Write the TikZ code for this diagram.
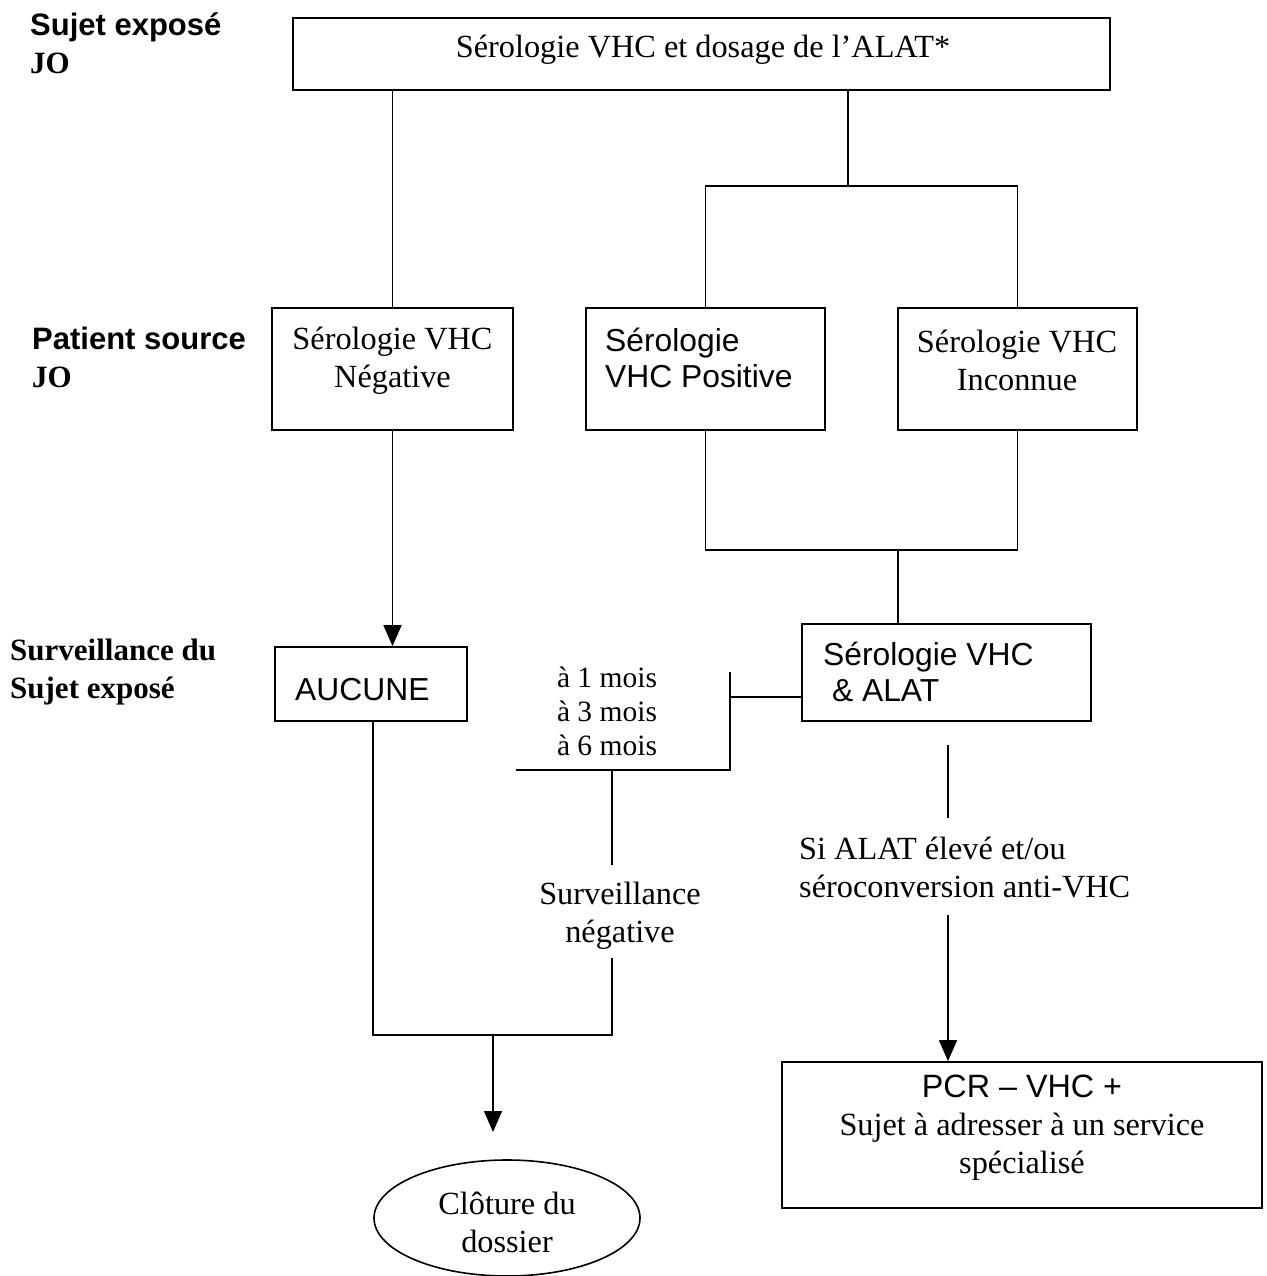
\documentclass[tikz,border=0pt]{standalone}
\usepackage{fontspec}
\setmainfont{Liberation Serif}
\setsansfont{Liberation Sans}
\usetikzlibrary{arrows.meta,shapes.geometric}
\begin{document}
\begin{tikzpicture}[x=1pt,y=-1pt,
  box/.style={draw,line width=1.8pt,rectangle,inner sep=0pt},
  link/.style={line width=1.6pt},
  arr/.style={line width=1.6pt,-{Triangle[width=18pt,length=21pt]}},
  serif/.style={font=\fontsize{32.3}{38}\selectfont,inner sep=0pt,align=center},
  sans/.style={font=\sffamily\fontsize{31.8}{36}\selectfont,inner sep=0pt,align=left},
  rowlabel/.style={font=\bfseries\fontsize{31}{38}\selectfont,inner sep=0pt,align=left,anchor=west}]
\useasboundingbox (0,0) rectangle (1266,1276);

% row labels
\node[rowlabel] (lab1) at (30,43) {{\sffamily Sujet exposé}\\JO};
\node[rowlabel] (lab2) at (32,357) {{\sffamily Patient source}\\JO};
\node[rowlabel] (lab3) at (10,672) {Surveillance du\\Sujet exposé};

% boxes
\node[box,minimum width=817pt,minimum height=72pt] (top) at (701.5,54) {};
\node[serif] (topT) at (703,50) {Sérologie VHC et dosage de l’ALAT*};

\node[box,minimum width=241pt,minimum height=122pt] (neg) at (392.5,369) {};
\node[serif] (negT) at (392.5,361) {Sérologie VHC\\Négative};

\node[box,minimum width=239pt,minimum height=122pt] (pos) at (705.5,369) {};
\node[sans,anchor=west] (posT) at (605,358) {Sérologie\\VHC Positive};

\node[box,minimum width=239pt,minimum height=122pt] (inc) at (1017.5,369) {};
\node[serif] (incT) at (1017,360) {Sérologie VHC\\Inconnue};

\node[box,minimum width=192pt,minimum height=74pt] (auc) at (371,684) {};
\node[sans,anchor=west] (aucT) at (295,690) {AUCUNE};

\node[box,minimum width=289pt,minimum height=97pt] (alat) at (946.5,672.5) {};
\node[sans,anchor=west] (alatT) at (823,672) {Sérologie VHC\\\ \& ALAT};

\node[box,minimum width=480pt,minimum height=146pt] (pcr) at (1022,1135) {};
\node[serif] (pcrT) at (1022,1128) {{\sffamily PCR – VHC +}\\Sujet à adresser à un service\\spécialisé};

\node[draw,ellipse,line width=1.6pt,minimum width=266pt,minimum height=116pt,inner sep=0pt] (clo) at (507,1218) {};
\node[serif] (cloT) at (507,1222) {Clôture du\\dossier};

% free labels
\node[serif,font=\fontsize{29.5}{34}\selectfont] (mois) at (607,711) {à 1 mois\\à 3 mois\\à 6 mois};
\node[serif] (survT) at (620,916) {Surveillance\\négative};
\node[serif,align=left,anchor=west] (siT) at (799,868) {Si ALAT élevé et/ou\\séroconversion anti-VHC};

% junction points
\coordinate (j1) at (848,186);
\coordinate (j2) at (898,550);
\coordinate (b0) at (730,672);
\coordinate (b1) at (730,697);
\coordinate (b2) at (730,770);
\coordinate (b3) at (516,770);
\coordinate (b4) at (612,770);
\coordinate (b5) at (612,865);
\coordinate (b6) at (612,958);
\coordinate (j3) at (612,1035);
\coordinate (j4) at (373,1035);
\coordinate (j5) at (493,1035);
\coordinate (e0) at (493,1132);
\coordinate (r1) at (948,745);
\coordinate (r2) at (948,818);
\coordinate (r3) at (948,915);

% connectors
\draw[link] (top.south -| neg.north) -- (neg.north);
\draw[link] (top.south -| j1) -- (j1);
\draw[link] (pos.north) -- (pos.north |- j1) -- (inc.north |- j1) -- (inc.north);
\draw[arr] (neg.south) -- (neg.south |- auc.north);
\draw[link] (pos.south) -- (pos.south |- j2) -- (inc.south |- j2) -- (inc.south);
\draw[link] (j2) -- (j2 |- alat.north);
\draw[link] (alat.west |- b1) -- (b1);
\draw[link] (b0) -- (b2) -- (b3);
\draw[link] (b4) -- (b5);
\draw[link] (b6) -- (j3) -- (j4) -- (j4 |- auc.south);
\draw[arr] (j5) -- (e0);
\draw[link] (r1) -- (r2);
\draw[arr] (r3) -- (r3 |- pcr.north);
\end{tikzpicture}
\end{document}
